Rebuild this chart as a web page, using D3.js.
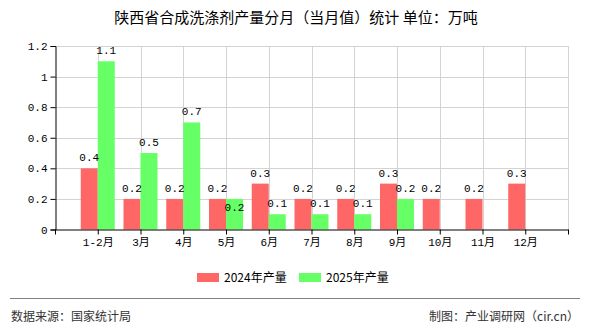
<!DOCTYPE html>
<html><head><meta charset="utf-8">
<script src="https://cdn.jsdelivr.net/npm/d3@7"></script>
<style>body{margin:0;background:#fff}svg{display:block}</style>
</head><body>
<script>
const categories = ["1-2月","3月","4月","5月","6月","7月","8月","9月","10月","11月","12月"];
const values2024 = [0.4,0.2,0.2,0.2,0.3,0.2,0.2,0.3,0.2,0.2,0.3];
const values2025 = [1.1,0.5,0.7,0.2,0.1,0.1,0.1,0.2,null,null,null];
const yTicks = [0,0.2,0.4,0.6,0.8,1,1.2];
const seriesNames = ["2024年产量","2025年产量"];
const colors = ["#ff6666","#66ff66"];

const W=590,H=330;
const svg=d3.select("body").append("svg").attr("width",W).attr("height",H);
const numFont='"Liberation Mono","Noto Sans CJK SC",monospace';
const cjk='"Noto Sans CJK SC",sans-serif';

const x=d3.scaleLinear().domain([0,categories.length+1]).range([55,568]);
const y=d3.scaleLinear().domain([0,1.2]).range([229.5,46]);
const bw=17;

// title
svg.append("text").attr("x",296).attr("y",23).attr("text-anchor","middle")
  .attr("font-family",cjk).attr("font-size",15).attr("fill","#000")
  .text("陕西省合成洗涤剂产量分月（当月值）统计  单位：万吨");

// grid
const g=svg.append("g");
g.selectAll("line.h").data(yTicks.slice(1)).join("line")
  .attr("x1",x(0)).attr("x2",x(categories.length+1))
  .attr("y1",d=>Math.round(y(d))+0.5).attr("y2",d=>Math.round(y(d))+0.5)
  .attr("stroke","#d3d3d3");
g.selectAll("line.v").data(d3.range(1,categories.length+2)).join("line")
  .attr("y1",y(1.2)).attr("y2",y(0))
  .attr("x1",d=>Math.round(x(d))+0.5).attr("x2",d=>Math.round(x(d))+0.5)
  .attr("stroke","#d3d3d3");

// bars
const data=categories.map((c,i)=>({c,i,a:values2024[i],b:values2025[i]}));
svg.selectAll("rect.a").data(data).join("rect")
  .attr("x",d=>x(d.i+1)-bw).attr("width",bw)
  .attr("y",d=>y(d.a)).attr("height",d=>y(0)-y(d.a)).attr("fill",colors[0]);
svg.selectAll("rect.b").data(data.filter(d=>d.b!=null)).join("rect")
  .attr("x",d=>x(d.i+1)).attr("width",bw)
  .attr("y",d=>y(d.b)).attr("height",d=>y(0)-y(d.b)).attr("fill",colors[1]);

// value labels
svg.selectAll("text.a").data(data).join("text")
  .attr("x",d=>x(d.i+1)-bw/2).attr("y",d=>y(d.a)-7)
  .attr("text-anchor","middle").attr("font-family",numFont).attr("font-size",11)
  .text(d=>d3.format(".1f")(d.a));
// collision avoidance: if a 2025 label would sit at the same height as the 2024 label, push it down
svg.selectAll("text.b").data(data.filter(d=>d.b!=null)).join("text")
  .attr("x",d=>x(d.i+1)+bw/2)
  .attr("y",d=>{const yy=y(d.b)-7, ya=y(d.a)-7; return Math.abs(yy-ya)<8 ? yy+19 : yy;})
  .attr("text-anchor","middle").attr("font-family",numFont).attr("font-size",11)
  .text(d=>d3.format(".1f")(d.b));

// axes
const yAxis=d3.axisLeft(y).tickValues(yTicks).tickSize(5).tickPadding(3)
  .tickFormat(d=>d===0?"0":d===1?"1":d3.format(".1f")(d));
const ya=svg.append("g").attr("transform","translate(55.5,0)").call(yAxis);
ya.select(".domain").attr("stroke","#000");
ya.selectAll("text").attr("font-family",numFont).attr("font-size",11).attr("fill","#000");

const xAxis=d3.axisBottom(x).tickValues(d3.range(0,categories.length+2)).tickSize(5).tickSizeOuter(0).tickPadding(4)
  .tickFormat(d=>categories[d-1]||"");
const xa=svg.append("g").attr("transform","translate(0,229.5)").call(xAxis);
xa.select(".domain").attr("stroke","#000");
xa.selectAll("text").attr("font-family",numFont).attr("font-size",11).attr("fill","#000");

// legend
const lg=svg.append("g");
const lx=[197,299];
seriesNames.forEach((n,i)=>{
  lg.append("rect").attr("x",lx[i]).attr("y",273).attr("width",22).attr("height",9).attr("fill",colors[i]);
  lg.append("text").attr("x",lx[i]+27).attr("y",281.5).attr("font-family",cjk).attr("font-size",12).attr("fill","#000").text(n);
});

// footer
svg.append("line").attr("x1",10).attr("x2",580).attr("y1",298.5).attr("y2",298.5).attr("stroke","#808080");
svg.append("text").attr("x",11).attr("y",321).attr("font-family",cjk).attr("font-size",12).attr("fill","#333").text("数据来源：国家统计局");
svg.append("text").attr("x",579).attr("y",321).attr("text-anchor","end").attr("font-family",cjk).attr("font-size",12).attr("fill","#333").text("制图：产业调研网（cir.cn）");
</script>
</body></html>
